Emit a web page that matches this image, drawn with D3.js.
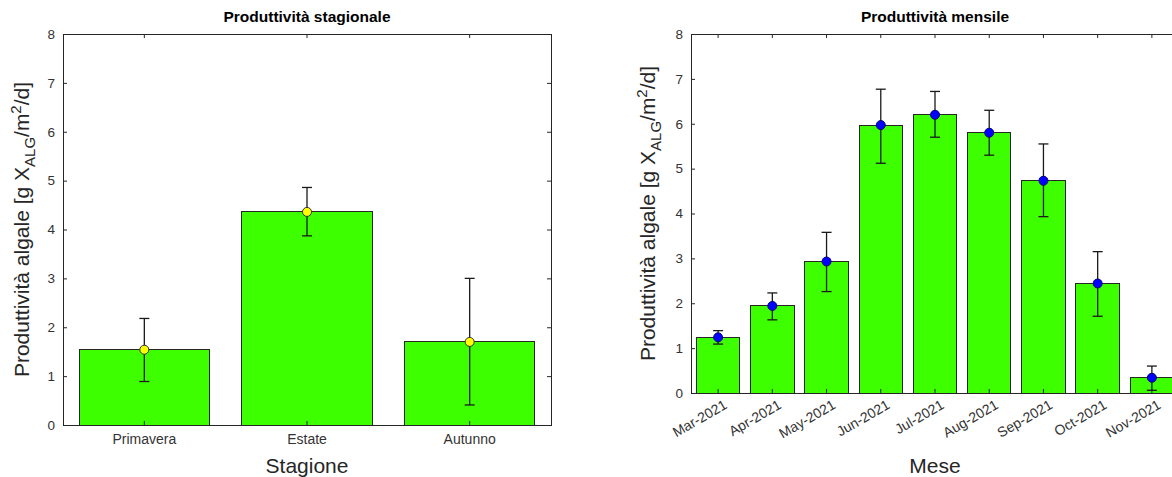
<!DOCTYPE html>
<meta charset="utf-8">
<style>
body { margin: 0; background: #fff; }
svg { font-family: "Liberation Sans", Arial, sans-serif; }
.tick text { fill: #333; font-size: 14px; }
.tick line { stroke: #262626; }
.box { fill: none; stroke: #262626; stroke-width: 1; shape-rendering: crispEdges; }
.bar { fill: #3dff00; stroke: #262626; stroke-width: 1; shape-rendering: crispEdges; }
.err { stroke: #1a1a1a; stroke-width: 1.3; }
.title { font-weight: bold; font-size: 15.5px; text-anchor: middle; fill: #000; }
.alabel { font-size: 21px; fill: #262626; text-anchor: middle; }
</style>
<body>
<script src="https://cdn.jsdelivr.net/npm/d3@7"></script>
<script>
// seasonal data
var seasons = ["Primavera", "Estate", "Autunno"];
var seasonMean = [1.54, 4.36, 1.70];
var seasonLow  = [0.89, 3.87, 0.41];
var seasonHigh = [2.18, 4.86, 3.00];

// monthly data
var months = ["Mar-2021", "Apr-2021", "May-2021", "Jun-2021", "Jul-2021", "Aug-2021", "Sep-2021", "Oct-2021", "Nov-2021"];
var monthMean = [1.24, 1.94, 2.93, 5.97, 6.20, 5.80, 4.73, 2.44, 0.34];
var monthLow  = [1.09, 1.63, 2.26, 5.12, 5.70, 5.30, 3.93, 1.71, 0.06];
var monthHigh = [1.39, 2.23, 3.58, 6.77, 6.72, 6.30, 5.55, 3.15, 0.60];

var yTicks = [0, 1, 2, 3, 4, 5, 6, 7, 8];

var svg = d3.select("body").append("svg")
    .attr("width", 1172)
    .attr("height", 477);

function drawPanel(p) {
  var g = svg.append("g");
  var x = d3.scaleBand().domain(p.cats).range([p.x0, p.x1])
      .paddingInner(0.2).paddingOuter(0.1);
  var y = d3.scaleLinear().domain([0, 8]).range([p.y0, p.y1]);
  var data = p.cats.map(function(c, i) {
    return {cat: c, mean: p.mean[i], lo: p.lo[i], hi: p.hi[i]};
  });

  // bars
  g.selectAll(".bar").data(data).enter().append("rect")
      .attr("class", "bar")
      .attr("x", function(d) { return x(d.cat); })
      .attr("width", x.bandwidth())
      .attr("y", function(d) { return y(d.mean); })
      .attr("height", function(d) { return p.y0 - y(d.mean); });

  // box
  g.append("rect").attr("class", "box")
      .attr("x", p.x0).attr("y", p.y1)
      .attr("width", p.x1 - p.x0).attr("height", p.y0 - p.y1);

  // axes, ticks pointing inward
  var yl = g.append("g").attr("transform", "translate(" + p.x0 + ",0)")
      .call(d3.axisLeft(y).tickValues(yTicks).tickSizeInner(-4).tickSizeOuter(0).tickPadding(8));
  var yr = g.append("g").attr("transform", "translate(" + p.x1 + ",0)")
      .call(d3.axisRight(y).tickValues(yTicks).tickSizeInner(-4).tickSizeOuter(0).tickFormat(""));
  var xb = g.append("g").attr("transform", "translate(0," + p.y0 + ")")
      .call(d3.axisBottom(x).tickSizeInner(-4).tickSizeOuter(0).tickPadding(9));
  var xt = g.append("g").attr("transform", "translate(0," + p.y1 + ")")
      .call(d3.axisTop(x).tickSizeInner(-4).tickSizeOuter(0).tickFormat(""));
  [yl, yr, xb, xt].forEach(function(a) {
    a.select(".domain").remove();
    a.attr("font-family", null).attr("font-size", null);
  });
  yl.selectAll("text").style("font-size", "13.5px");

  if (p.rotate) {
    xb.selectAll("text")
        .attr("text-anchor", "end")
        .attr("x", 0).attr("y", 0)
        .attr("dy", "0.71em")
        .attr("transform", "translate(5,6) rotate(-30)");
  }

  // error bars
  var cx = function(d) { return x(d.cat) + x.bandwidth() / 2; };
  var eb = g.selectAll(".eb").data(data).enter().append("g");
  eb.append("line").attr("class", "err")
      .attr("x1", cx).attr("x2", cx)
      .attr("y1", function(d) { return y(d.lo); })
      .attr("y2", function(d) { return y(d.hi); });
  eb.append("line").attr("class", "err")
      .attr("x1", function(d) { return cx(d) - p.cap; })
      .attr("x2", function(d) { return cx(d) + p.cap; })
      .attr("y1", function(d) { return y(d.hi); })
      .attr("y2", function(d) { return y(d.hi); });
  eb.append("line").attr("class", "err")
      .attr("x1", function(d) { return cx(d) - p.cap; })
      .attr("x2", function(d) { return cx(d) + p.cap; })
      .attr("y1", function(d) { return y(d.lo); })
      .attr("y2", function(d) { return y(d.lo); });
  eb.append("circle")
      .attr("cx", cx)
      .attr("cy", function(d) { return y(d.mean); })
      .attr("r", p.r)
      .attr("fill", p.markFill)
      .attr("stroke", p.markStroke)
      .attr("stroke-width", 1);

  // title
  g.append("text").attr("class", "title")
      .attr("x", (p.x0 + p.x1) / 2)
      .attr("y", 22)
      .text(p.title);

  // x label
  g.append("text").attr("class", "alabel")
      .attr("x", (p.x0 + p.x1) / 2)
      .attr("y", p.xlabY)
      .text(p.xlabel);

  // y label with sub/superscript
  var t = g.append("text").attr("class", "alabel")
      .attr("transform", "translate(" + p.ylabX + "," + (p.y0 + p.y1) / 2 + ") rotate(-90)");
  t.append("tspan").text("Produttività algale [g X");
  t.append("tspan").attr("dy", 6).style("font-size", "15px").text("ALG");
  t.append("tspan").attr("dy", -6).text("/m");
  t.append("tspan").attr("dy", -8).style("font-size", "15px").text("2");
  t.append("tspan").attr("dy", 8).text("/d]");
}

drawPanel({
  cats: seasons, mean: seasonMean, lo: seasonLow, hi: seasonHigh,
  x0: 63, x1: 551, y0: 425, y1: 34,
  cap: 5, r: 4.5, markFill: "#ffff00", markStroke: "#333",
  title: "Produttività stagionale", xlabel: "Stagione",
  xlabY: 473, ylabX: 29, rotate: false
});

drawPanel({
  cats: months, mean: monthMean, lo: monthLow, hi: monthHigh,
  x0: 691, x1: 1179, y0: 393, y1: 34,
  cap: 5, r: 4.5, markFill: "#0000ff", markStroke: "#000080",
  title: "Produttività mensile", xlabel: "Mese",
  xlabY: 473, ylabX: 655, rotate: true
});
</script>
</body>
